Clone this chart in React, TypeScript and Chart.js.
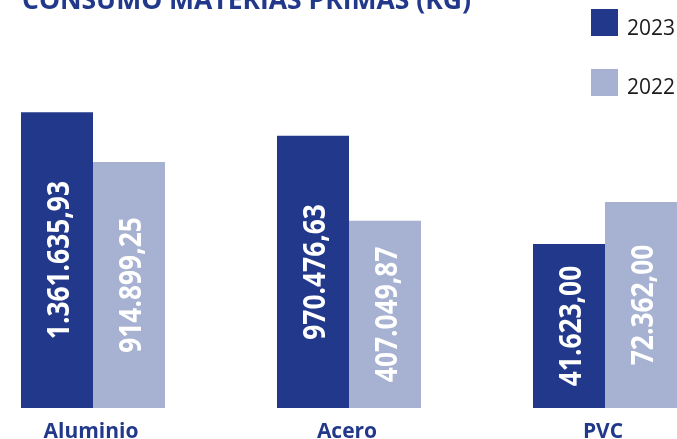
import React, { useEffect, useRef } from "react";
import { Chart, registerables } from "chart.js";

Chart.register(...registerables);

const title = "CONSUMO MATERIAS PRIMAS (KG)";
const categories = ["Aluminio", "Acero", "PVC"];
const seriesNames = ["2023", "2022"];
// Bar heights as drawn in the picture (share of plot height, %); the bars are not to scale.
const heights2023 = [72.5, 66.7, 40.2];
const heights2022 = [60.3, 45.9, 50.5];
// Value labels printed inside the bars (kg)
const labels2023 = ["1.361.635,93", "970.476,63", "41.623,00"];
const labels2022 = ["914.899,25", "407.049,87", "72.362,00"];

const DARK = "#22398B";
const LIGHT = "#A7B1D1";
const OFFSET = 35; // canvas is shifted left so category spacing matches

const overlay = {
  id: "overlay",
  afterDatasetsDraw(chart: any) {
    const ctx = chart.ctx as CanvasRenderingContext2D;
    const valueLabels = [labels2023, labels2022];
    chart.data.datasets.forEach((_ds: any, di: number) => {
      const meta = chart.getDatasetMeta(di);
      meta.data.forEach((bar: any, i: number) => {
        const { x, y, base } = bar.getProps(["x", "y", "base"], true);
        const cy = (y + base) / 2;
        ctx.save();
        ctx.translate(x + 12, cy);
        ctx.rotate(-Math.PI / 2);
        ctx.scale(0.85, 1);
        ctx.font = 'bold 31px "Open Sans"';
        ctx.fillStyle = "#ffffff";
        ctx.textAlign = "center";
        ctx.textBaseline = "alphabetic";
        ctx.fillText(valueLabels[di][i], 0, 0);
        ctx.restore();
      });
    });

    const xs = chart.scales.x;
    ctx.save();
    ctx.font = 'bold 21px "Open Sans"';
    ctx.fillStyle = DARK;
    ctx.textAlign = "center";
    ctx.textBaseline = "alphabetic";
    categories.forEach((c, i) => {
      ctx.fillText(c, xs.getPixelForValue(i) - 2, 438);
    });

    // title
    ctx.font = 'bold 26.5px "Open Sans"';
    ctx.textAlign = "left";
    ctx.fillText(title, 22 + OFFSET, 8.5);

    // legend
    const colors = [DARK, LIGHT];
    const sqY = [9, 69];
    const txtY = [35, 94];
    ctx.font = '21px "Open Sans"';
    seriesNames.forEach((s, i) => {
      ctx.fillStyle = colors[i];
      ctx.fillRect(591 + OFFSET, sqY[i], 27, 27);
      ctx.fillStyle = "#1a1a1a";
      ctx.fillText(s, 627 + OFFSET, txtY[i]);
    });
    ctx.restore();
  },
};

export default function App() {
  const ref = useRef<HTMLCanvasElement | null>(null);
  useEffect(() => {
    if (!ref.current) return;
    const chart = new Chart(ref.current, {
      type: "bar",
      data: {
        labels: categories,
        datasets: [
          {
            label: seriesNames[0],
            data: heights2023,
            backgroundColor: DARK,
            borderWidth: 0,
            barPercentage: 1,
            categoryPercentage: 0.5625,
          },
          {
            label: seriesNames[1],
            data: heights2022,
            backgroundColor: LIGHT,
            borderWidth: 0,
            barPercentage: 1,
            categoryPercentage: 0.5625,
          },
        ],
      },
      options: {
        animation: false,
        responsive: false,
        maintainAspectRatio: false,
        layout: { padding: { top: 0, bottom: 31, left: 0, right: 0 } },
        plugins: { legend: { display: false }, tooltip: { enabled: false }, title: { display: false } },
        scales: {
          x: { display: false, offset: true },
          y: { display: false, min: 0, max: 100 },
        },
      },
      plugins: [overlay],
    });
    return () => chart.destroy();
  }, []);
  return (
    <div
      style={{
        position: "fixed",
        left: 0,
        top: 0,
        width: 677,
        height: 439,
        overflow: "hidden",
        background: "#ffffff",
      }}
    >
      <canvas
        ref={ref}
        width={768}
        height={439}
        style={{ position: "absolute", left: -OFFSET, top: 0, width: 768, height: 439 }}
      />
    </div>
  );
}
